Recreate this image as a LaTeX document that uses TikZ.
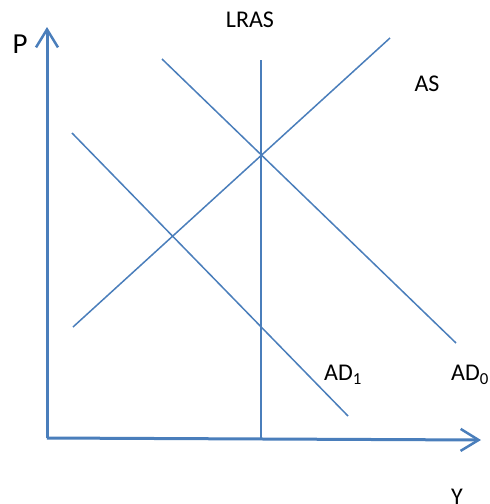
\documentclass[tikz,border=0pt]{standalone}
\usepackage{fontspec}
\setmainfont{Carlito}
\usetikzlibrary{arrows.meta}
\definecolor{lineblue}{RGB}{74,126,187}
\tikzset{
  curve/.style={draw=lineblue, line width=1.5pt},
  axis/.style={draw=lineblue, line width=3pt, -{Straight Barb[length=18pt,width=22pt,line width=2.5pt]}},
  lbl/.style={font=\fontsize{24}{28}\selectfont, inner sep=0pt},
  biglbl/.style={font=\fontsize{29}{33}\selectfont, inner sep=0pt}
}
\begin{document}
\begin{tikzpicture}[x=1pt,y=-1pt]
\useasboundingbox (0,0) rectangle (490,504);
\coordinate (O) at (47,438);
\coordinate (ytop) at (47,27);
\coordinate (xend) at (481,440);
\coordinate (lrasT) at (261,60);
\coordinate (lrasB) at (261,438);
\coordinate (asA) at (73,327);
\coordinate (asB) at (390,38);
\coordinate (ad0A) at (162,59);
\coordinate (ad0B) at (456,343);
\coordinate (ad1A) at (72,133);
\coordinate (ad1B) at (348,416);
\draw[curve] (lrasT) -- (lrasB);
\draw[curve] (asA) -- (asB);
\draw[curve] (ad0A) -- (ad0B);
\draw[curve] (ad1A) -- (ad1B);
\draw[axis] (O) -- (ytop);
\draw[axis] (O) -- (xend);
\node[biglbl] (p) at (20,44) {P};
\node[lbl] (lras) at (250,20) {LRAS};
\node[lbl] (as) at (427,84) {AS};
\node[lbl] (ad1) at (343,375) {AD\textsubscript{1}};
\node[lbl] (ad0) at (470,375) {AD\textsubscript{0}};
\node[lbl] (y) at (457,497) {Y};
\end{tikzpicture}
\end{document}
